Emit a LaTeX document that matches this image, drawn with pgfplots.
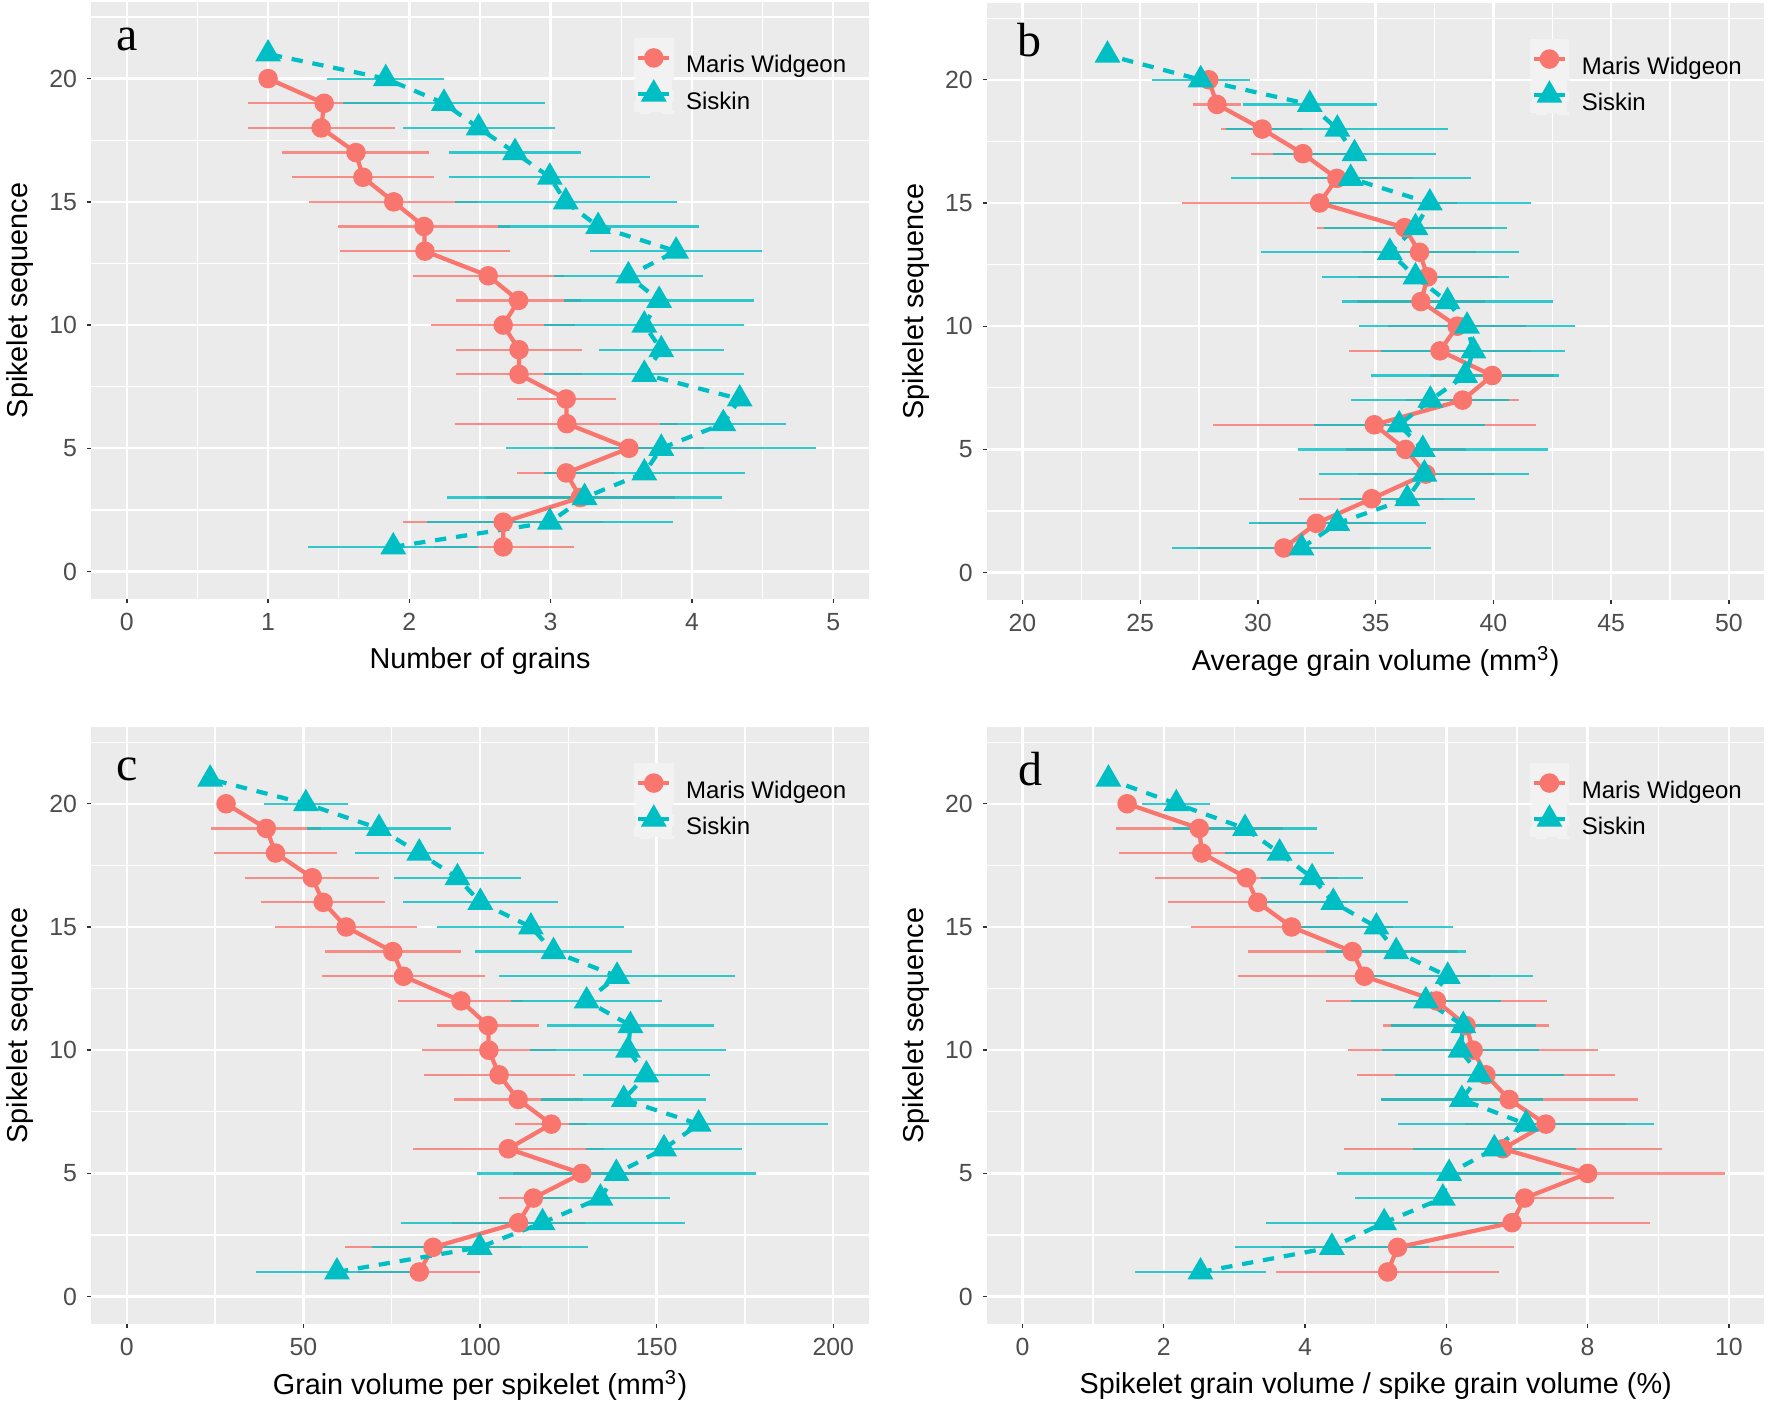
\documentclass[border=0pt]{standalone}
\usepackage{fontspec}
\setmainfont{Liberation Sans}
\newfontfamily\lettfont{Liberation Serif}
\usepackage{pgfplots}
\usepackage{pgfplotstable}
\pgfplotsset{compat=1.18}

\definecolor{panelbg}{HTML}{EBEBEB}
\definecolor{keybg}{HTML}{F2F2F2}
\definecolor{mwcol}{HTML}{F8766D}
\definecolor{skcol}{HTML}{00BFC4}
\definecolor{gg20}{HTML}{333333}
\definecolor{gg30}{HTML}{4D4D4D}

% columns: spikelet, mean, half-width of the bar
\pgfplotstableread{
y x e
1 2.664 0.50
2 2.664 0.707
3 3.21 0.67
4 3.11 0.345
5 3.554 0.53
6 3.114 0.79
7 3.11 0.35
8 2.776 0.445
9 2.776 0.445
10 2.664 0.51
11 2.773 0.44
12 2.558 0.535
13 2.11 0.60
14 2.104 0.61
15 1.889 0.60
16 1.671 0.50
17 1.622 0.52
18 1.376 0.52
19 1.397 0.54
20 1.00 0
}\aMW
\pgfplotstableread{
y x e
1 1.886 0.603
2 2.994 0.871
3 3.24 0.976
4 3.663 0.711
5 3.783 1.098
6 4.222 0.445
7 4.338 0
8 3.663 0.707
9 3.783 0.443
10 3.663 0.707
11 3.768 0.672
12 3.55 0.528
13 3.888 0.607
14 3.336 0.711
15 3.107 0.786
16 2.994 0.711
17 2.748 0.464
18 2.49 0.538
19 2.245 0.712
20 1.833 0.415
21 1.00 0
}\aSK
\pgfplotstableread{
y x e
1 31.10 3.67
2 32.48 2.44
3 34.83 3.07
4 37.13 2.89
5 36.27 2.55
6 34.94 6.85
7 38.69 2.40
8 39.95 2.64
9 37.73 3.86
10 38.46 2.92
11 36.92 2.71
12 37.21 2.97
13 36.86 2.40
14 36.23 3.71
15 32.62 5.84
16 33.35 3.25
17 31.91 2.21
18 30.18 1.74
19 28.26 1.00
20 27.91 0
}\bMW
\pgfplotstableread{
y x e
1 31.85 5.48
2 33.37 3.76
3 36.34 2.87
4 37.07 4.46
5 37.00 5.30
6 36.00 3.63
7 37.32 3.36
8 38.80 3.98
9 39.15 3.91
10 38.88 4.58
11 38.05 4.48
12 36.69 3.96
13 35.60 5.48
14 36.69 3.88
15 37.30 4.30
16 33.94 5.09
17 34.10 3.45
18 33.37 4.72
19 32.20 2.85
20 27.57 2.09
21 23.61 0
}\bSK
\pgfplotstableread{
y x e
1 82.8 17.25
2 86.7 24.85
3 110.9 18.8
4 115.1 9.75
5 128.8 19.6
6 108.0 27.1
7 120.2 10.2
8 110.8 18.3
9 105.4 21.4
10 102.5 19.0
11 102.3 14.4
12 94.6 17.7
13 78.3 23.1
14 75.3 19.3
15 62.1 20.05
16 55.6 17.6
17 52.5 19.0
18 42.1 17.3
19 39.5 15.6
20 28.1 0
}\cMW
\pgfplotstableread{
y x e
1 59.5 22.9
2 99.9 30.6
3 117.7 40.2
4 134.1 19.8
5 138.6 39.4
6 152.1 22.0
7 161.9 36.7
8 140.7 23.4
9 147.1 17.9
10 141.9 27.7
11 142.6 23.7
12 130.2 21.3
13 138.8 33.3
14 120.8 22.2
15 114.4 26.5
16 100.1 22.0
17 93.6 17.9
18 82.8 18.2
19 71.4 20.4
20 50.7 11.96
21 23.6 0
}\cSK
\pgfplotstableread{
y x e
1 5.17 1.575
2 5.31 1.65
3 6.93 1.96
4 7.11 1.27
5 8.00 1.94
6 6.80 2.25
7 7.41 1.14
8 6.89 1.82
9 6.56 1.83
10 6.38 1.765
11 6.28 1.175
12 5.86 1.565
13 4.84 1.785
14 4.67 1.48
15 3.81 1.43
16 3.33 1.275
17 3.171 1.295
18 2.538 1.175
19 2.503 1.18
20 1.481 0
}\dMW
\pgfplotstableread{
y x e
1 2.52 0.928
2 4.38 1.37
3 5.12 1.676
4 5.95 1.238
5 6.04 1.582
6 6.68 1.154
7 7.13 1.815
8 6.22 1.144
9 6.47 1.20
10 6.20 1.113
11 6.24 1.026
12 5.71 1.057
13 6.02 1.20
14 5.29 0.99
15 5.01 1.088
16 4.40 1.06
17 4.10 0.72
18 3.64 0.775
19 3.15 1.026
20 2.177 0.48
21 1.217 0
}\dSK

\pgfplotsset{
  ggpanel/.style={
    scale only axis, width=275.2pt, height=211.2pt, anchor=north west,
    axis background/.style={fill=panelbg},
    axis line style={draw=none},
    grid=both,
    major grid style={white, line width=0.85pt},
    minor grid style={white, line width=0.45pt},
    tick align=outside, tick pos=left,
    major tick length=1.6pt, minor tick length=0pt,
    tick style={gg20, line width=0.5pt},
    ticklabel style={font=\fontsize{8.8}{10}\selectfont, text=gg30},
    label style={font=\fontsize{10.2}{12}\selectfont},
    /pgf/number format/assume math mode=true,
    ymin=-1.1, ymax=23.1, ytick={0,5,10,15,20},
    minor ytick={2.5,7.5,12.5,17.5,22.5},
    ylabel={Spikelet sequence},
    ylabel style={at={(axis description cs:-0.092,0.5)}, anchor=center},
    xlabel style={at={(axis description cs:0.5,-0.104)}, anchor=center},
    legend style={at={(0.698,0.94)}, anchor=north west, draw=none, fill=none,
      inner sep=0pt, outer sep=0pt, row sep=-1.3pt, column sep=4.4pt,
      font=\fontsize{8.5}{10}\selectfont, nodes={inner sep=0pt}},
    legend cell align=left,
    legend image code/.code={
      \fill[keybg] (0pt,-3.3pt) rectangle (12.6pt,9.3pt);
      \draw[solid,mark repeat=2,mark phase=2] plot coordinates {(0.8pt,3pt) (6.3pt,3pt) (11.8pt,3pt)};
    },
  },
  mwline/.style={mwcol, line width=1.5pt, mark=*, mark size=2.7pt,
    mark options={solid, fill=mwcol, draw=none}},
  skline/.style={skcol, line width=1.5pt, dash pattern=on 4pt off 3.5pt,
    mark=triangle*, mark size=3.8pt, mark options={solid, fill=skcol, draw=none}},
  ebar/.style={only marks, mark=none, forget plot,
    error bars/.cd, x dir=both, x explicit, error mark=none,
    error bar style={line width=0.8pt, opacity=0.8, solid}},
}

\newcommand{\series}[2]{%
  \addplot[mwcol, ebar] table[x=x, y=y, x error=e] {#1};
  \addplot[skcol, ebar] table[x=x, y=y, x error=e] {#2};
  \addplot[mwline, forget plot] table[x=x, y=y] {#1};
  \addplot[skline, forget plot] table[x=x, y=y] {#2};
  \addlegendimage{mwline}\addlegendentry{Maris Widgeon}
  \addlegendimage{skline}\addlegendentry{Siskin}
}

\tikzset{panellet/.style={font=\fontsize{17}{17}\lettfont, inner sep=0pt}}

\begin{document}
\begin{tikzpicture}
\path[use as bounding box] (0,0) rectangle (627.2pt,498.8pt);

\begin{axis}[ggpanel, at={(32.4pt,498pt)},
  xmin=-0.25, xmax=5.25, xtick={0,1,2,3,4,5}, minor xtick={0.5,1.5,2.5,3.5,4.5},
  xlabel={Number of grains}]
\series{\aMW}{\aSK}
\node[panellet] at (axis cs:0,21.6) {a};
\end{axis}

\begin{axis}[ggpanel, at={(349.6pt,497.6pt)},
  xmin=18.5, xmax=51.5, xtick={20,25,30,35,40,45,50},
  minor xtick={22.5,27.5,32.5,37.5,42.5,47.5},
  xlabel={Average grain volume (mm\textsuperscript{3})}]
\series{\bMW}{\bSK}
\node[panellet] at (axis cs:20.3,21.6) {b};
\end{axis}

\begin{axis}[ggpanel, at={(32.4pt,241.2pt)},
  xmin=-10, xmax=210, xtick={0,50,100,150,200}, minor xtick={25,75,125,175},
  xlabel={Grain volume per spikelet (mm\textsuperscript{3})}]
\series{\cMW}{\cSK}
\node[panellet] at (axis cs:0,21.4) {c};
\end{axis}

\begin{axis}[ggpanel, at={(349.6pt,241.2pt)},
  xmin=-0.5, xmax=10.5, xtick={0,2,4,6,8,10}, minor xtick={1,3,5,7,9},
  xlabel={Spikelet grain volume / spike grain volume (\%)}]
\series{\dMW}{\dSK}
\node[panellet] at (axis cs:0.11,21.4) {d};
\end{axis}
\end{tikzpicture}
\end{document}
